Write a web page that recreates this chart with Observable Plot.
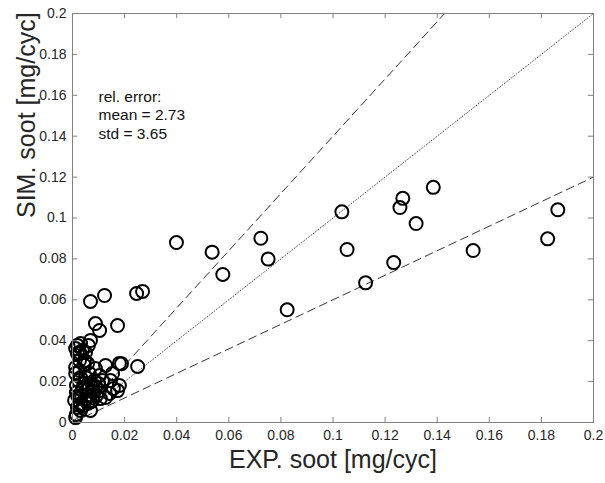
<!DOCTYPE html>
<html>
<head>
<meta charset="utf-8">
<script src="https://cdn.jsdelivr.net/npm/d3@7"></script>
<script src="https://cdn.jsdelivr.net/npm/@observablehq/plot@0.6"></script>
<style>
  html, body { margin: 0; padding: 0; background: white; }
  #chart { width: 605px; height: 483px; }
</style>
</head>
<body>
<div id="chart"></div>
<script>
// Experimental soot (x) and simulated soot (y), mg/cyc
const expSoot = [
  0.0399, 0.0536, 0.0577, 0.0723, 0.0751, 0.0824, 0.1034, 0.1054, 0.1125, 0.1233,
  0.1268, 0.1257, 0.1319, 0.1385, 0.1538, 0.1824, 0.1863,
  0.0069, 0.0123, 0.0246, 0.0269, 0.0088, 0.0104, 0.0173, 0.0069, 0.0061, 0.0012, 0.0027,
  0.0188, 0.0250,
  0.0019, 0.0031, 0.0038, 0.0019, 0.0050, 0.0012, 0.0027, 0.0012, 0.0031, 0.0065,
  0.0088, 0.0127, 0.0180, 0.0154, 0.0180, 0.0173, 0.0142, 0.0127, 0.0104, 0.0077,
  0.0038, 0.0027, 0.0050, 0.0019, 0.0031, 0.0012, 0.0015, 0.0058, 0.0069, 0.0084,
  0.0115, 0.0104, 0.0046, 0.0058, 0.0027, 0.0046, 0.0061, 0.0015, 0.0023, 0.0042,
  0.0077, 0.0092, 0.0054, 0.0035, 0.0069, 0.0008, 0.0015, 0.0088, 0.0107, 0.0146,
  0.0157, 0.0040, 0.0060, 0.0080, 0.0030, 0.0050, 0.0070, 0.0100, 0.0020, 0.0045
];
const simSoot = [
  0.0880, 0.0833, 0.0724, 0.0901, 0.0799, 0.0551, 0.1030, 0.0846, 0.0683, 0.0782,
  0.1096, 0.1051, 0.0973, 0.1150, 0.0841, 0.0898, 0.1040,
  0.0592, 0.0621, 0.0631, 0.0641, 0.0484, 0.0450, 0.0474, 0.0401, 0.0377, 0.0362, 0.0342,
  0.0287, 0.0274,
  0.0377, 0.0386, 0.0352, 0.0337, 0.0342, 0.0269, 0.0254, 0.0240, 0.0220, 0.0240,
  0.0264, 0.0279, 0.0289, 0.0240, 0.0181, 0.0156, 0.0142, 0.0122, 0.0156, 0.0171,
  0.0156, 0.0122, 0.0108, 0.0073, 0.0059, 0.0024, 0.0039, 0.0093, 0.0132, 0.0205,
  0.0205, 0.0230, 0.0303, 0.0289, 0.0303, 0.0191, 0.0166, 0.0181, 0.0205, 0.0083,
  0.0108, 0.0132, 0.0132, 0.0132, 0.0059, 0.0108, 0.0147, 0.0176, 0.0117, 0.0205,
  0.0166, 0.0170, 0.0190, 0.0150, 0.0090, 0.0220, 0.0100, 0.0190, 0.0130, 0.0280
];
// Reference lines: y = slope * x
const refSlopes = [1.4, 1.0, 0.6];
const refDash = ["8,5", "1,2", "8,5"];
const refColor = ["#333", "#555", "#333"];
const statsText = ["rel. error:", "mean = 2.73", "std = 3.65"];
const xTicks = [0, 0.02, 0.04, 0.06, 0.08, 0.1, 0.12, 0.14, 0.16, 0.18, 0.2];
const yTicks = [0, 0.02, 0.04, 0.06, 0.08, 0.1, 0.12, 0.14, 0.16, 0.18, 0.2];
const xLabel = "EXP. soot [mg/cyc]";
const yLabel = "SIM. soot [mg/cyc]";

const points = expSoot.map((x, i) => ({x, y: simSoot[i]}));
const lines = refSlopes.flatMap((s, i) => [
  {k: i, x: 0, y: 0},
  {k: i, x: Math.min(0.2, 0.2 / s), y: Math.min(0.2, 0.2 * s)}
]);
const fmt = d => String(+d.toFixed(2));
const axisColor = "#262626";
const frameColor = "#808080";

const chart = Plot.plot({
  width: 605,
  height: 483,
  marginLeft: 72,
  marginRight: 12,
  marginTop: 13,
  marginBottom: 61,
  x: {domain: [0, 0.2]},
  y: {domain: [0, 0.2]},
  style: {fontFamily: "Arial, 'Liberation Sans', sans-serif", background: "white"},
  marks: [
    ...refSlopes.map((s, i) => Plot.line(lines.filter(d => d.k === i), {
      x: "x", y: "y", stroke: refColor[i], strokeWidth: 1, strokeDasharray: refDash[i]
    })),
    Plot.dot(points, {x: "x", y: "y", r: 6.5, stroke: "black", strokeWidth: 2, fill: "none"}),
    Plot.ruleX(xTicks, {x: d => d, y1: 0, y2: 0.0025, stroke: frameColor}),
    Plot.ruleX(xTicks, {x: d => d, y1: 0.2, y2: 0.1975, stroke: frameColor}),
    Plot.ruleY(yTicks, {y: d => d, x1: 0, x2: 0.002, stroke: frameColor}),
    Plot.ruleY(yTicks, {y: d => d, x1: 0.2, x2: 0.198, stroke: frameColor}),
    Plot.frame({stroke: frameColor}),
    Plot.axisX(xTicks, {tickSize: 0, tickPadding: 8, tickFormat: fmt, fontSize: 14, fill: axisColor, label: null}),
    Plot.axisY(yTicks, {tickSize: 0, tickPadding: 6, tickFormat: fmt, fontSize: 14, fill: axisColor, label: null}),
    Plot.text([statsText.join("\n")], {
      x: 0.00998, y: 0.1633, textAnchor: "start", lineAnchor: "top",
      fontSize: 15.5, lineHeight: 1.2, fill: "#111"
    }),
    Plot.text([xLabel], {frameAnchor: "bottom", dy: 45, fontSize: 25, fill: axisColor}),
    Plot.text([yLabel], {frameAnchor: "left", dx: -46, rotate: -90, fontSize: 25, fill: axisColor})
  ]
});
document.getElementById("chart").appendChild(chart);
</script>
</body>
</html>
